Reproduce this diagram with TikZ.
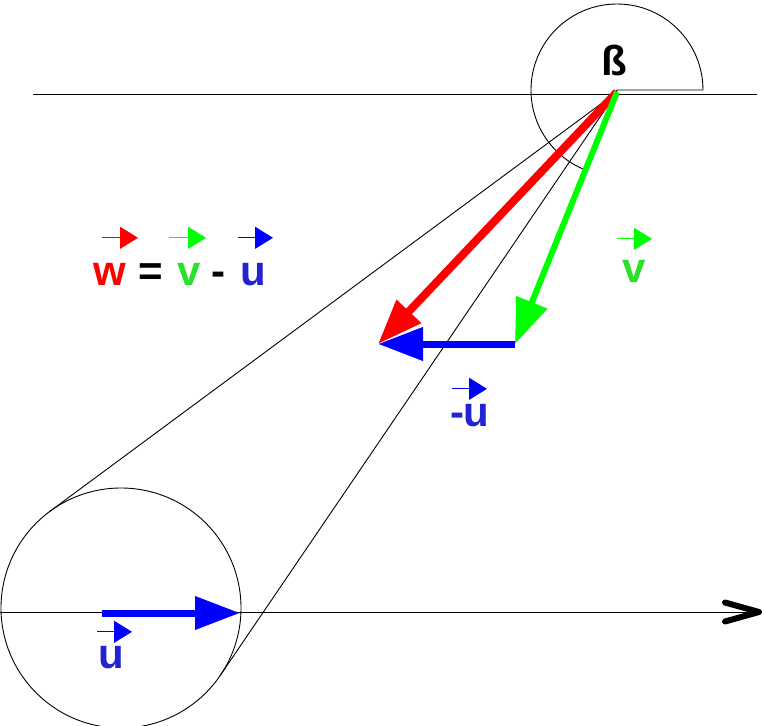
\documentclass[tikz,border=0pt]{standalone}
\usepackage{fontspec}
\setsansfont{Liberation Sans}
\usetikzlibrary{arrows.meta,calc}
\definecolor{vred}{RGB}{255,0,0}
\definecolor{vgreen}{RGB}{0,255,0}
\definecolor{vblue}{RGB}{0,0,255}
\definecolor{tgreen}{RGB}{40,225,40}
\definecolor{tblue}{RGB}{35,35,210}
\tikzset{
  vecline/.style={line width=7pt,-{Triangle[length=45pt,width=32pt]}},
  vecarrow/.style={line width=1.2pt,-{Triangle[length=18pt,width=22pt]}},
  lbl/.style={inner sep=0pt,outer sep=0pt,anchor=base west,font=\fontsize{42}{42}\selectfont\sffamily\bfseries}
}
\begin{document}
\begin{tikzpicture}[x=1pt,y=-1pt,line width=0.9pt]
	\useasboundingbox (0,0) rectangle (764,726);
	\coordinate (O) at (617,92);
	\coordinate (S) at (617,90);
	\coordinate (V) at (515,344);
	\coordinate (W) at (378,344);
	% horizontal lines
	\draw (33,94) -- (757,94);
	\draw[-{Straight Barb[length=34pt,width=19pt,line width=6pt,round]}] (0,612) -- (762,612);
	% angle beta
	\draw (S) -- ++(86,0) arc[start angle=0,end angle=-248,radius=86] -- cycle;
	\node[lbl,anchor=base] (beta) at (614,75) {ß};
	% wheel and tangents
	\node[circle,draw,minimum size=240pt,inner sep=0pt,outer sep=0pt] (wheel) at (121,608) {};
	\draw (O) -- (tangent cs:node=wheel,point={(O)},solution=1);
	\draw (O) -- (tangent cs:node=wheel,point={(O)},solution=2);
	% vectors
	\draw[vecline,vred,line width=8pt] (O) -- (W);
	\draw[vecline,vgreen,line width=6pt] (O) -- (V);
	\draw[vecline,vblue] (V) -- (W);
	\draw[vecline,vblue] (102,613) -- (240,613);
	% labels
	\node[lbl,vred] (lw) at (93,285) {w};
	\node[lbl] (leq) at (138,285) {=};
	\node[lbl,tgreen] (lv) at (177,285) {v};
	\node[lbl] (lmin) at (211,285) {-};
	\node[lbl,tblue] (lu) at (240,285) {u};
	\node[lbl,tgreen] (rv) at (622,282) {v};
	\node[lbl,tblue] (mu) at (450,426) {-u};
	\node[lbl,tblue] (bu) at (98,668) {u};
	\draw[vecarrow,vred] ([shift={(9,-25)}]lw.north west) -- ++(36,0);
	\draw[vecarrow,vgreen] ([shift={(-8,-25)}]lv.north west) -- ++(37,0);
	\draw[vecarrow,vblue] ([shift={(-2,-25)}]lu.north west) -- ++(35,0);
	\draw[vecarrow,vgreen] ([shift={(-5,-21)}]rv.north west) -- ++(35,0);
	\draw[vecarrow,vblue] ([shift={(2,-15)}]mu.north west) -- ++(35,0);
	\draw[vecarrow,vblue] ([shift={(-1,-14)}]bu.north west) -- ++(35,0);
\end{tikzpicture}
\end{document}
